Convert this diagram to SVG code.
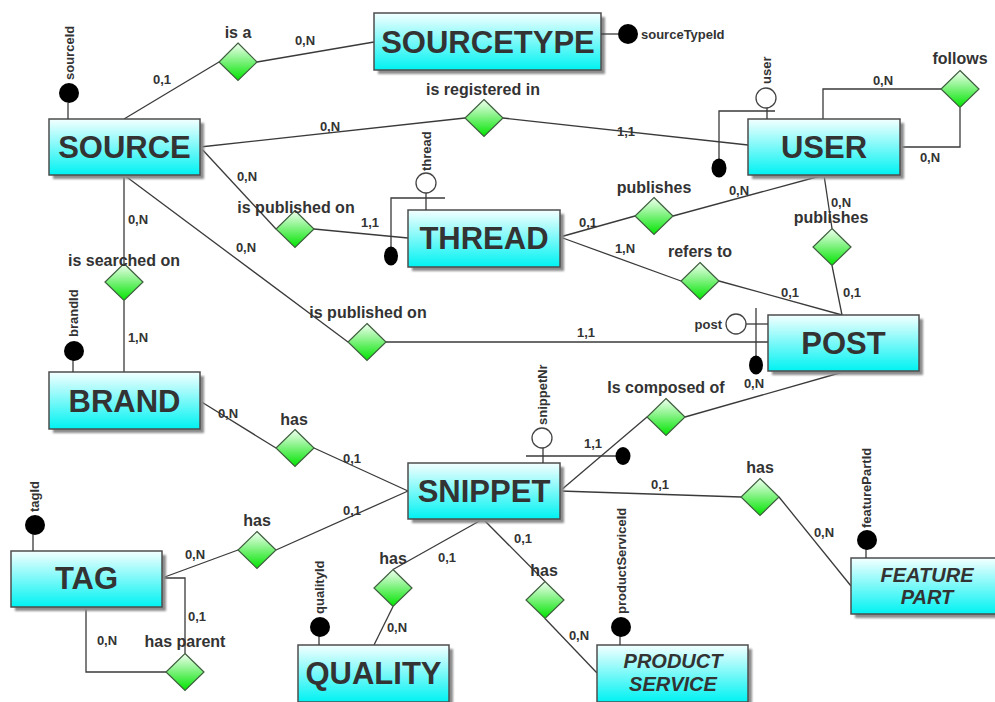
<svg xmlns="http://www.w3.org/2000/svg" width="995" height="702" viewBox="0 0 995 702">
  <defs>
    <linearGradient id="entFill" x1="0" y1="0" x2="0" y2="1">
      <stop offset="0" stop-color="#f4ffff"/>
      <stop offset="1" stop-color="#00f2f2"/>
    </linearGradient>
    <linearGradient id="relFill" x1="0" y1="0" x2="0" y2="1">
      <stop offset="0" stop-color="#f2fff2"/>
      <stop offset="1" stop-color="#00e400"/>
    </linearGradient>
    <filter id="soft" x="-10%" y="-10%" width="120%" height="130%">
      <feGaussianBlur stdDeviation="1"/>
    </filter>
  </defs>
  <style>
    .ent { fill: url(#entFill); stroke: #4d4d4d; stroke-width: 1.5; }
    .shadow { fill: #8c8c8c; filter: url(#soft); }
    .rel { fill: url(#relFill); stroke: #3e5e3e; stroke-width: 1.2; }
    .ln { fill: none; stroke: #3a3a3a; stroke-width: 1.3; }
    text { font-family: "Liberation Sans", Arial, sans-serif; font-weight: bold; fill: #333; }
    .ename { font-size: 31px; text-anchor: middle; }
    .ename2 { font-size: 20px; font-style: italic; text-anchor: middle; }
    .rname { font-size: 16px; text-anchor: middle; }
    .card { font-size: 13px; text-anchor: middle; }
    .attr { font-size: 13px; }
    .key { fill: #000; }
    .part { fill: #fff; stroke: #444; stroke-width: 1.3; }
  </style>
  <rect width="995" height="702" fill="#fff"/>

  <!-- connectors -->
  <g id="connectors">
    <polyline class="ln" points="124,119 219,62"/>
    <polyline class="ln" points="257,62 374,42"/>
    <polyline class="ln" points="200,147 465,118"/>
    <polyline class="ln" points="503,118 748,145"/>
    <polyline class="ln" points="200,147 276,229"/>
    <polyline class="ln" points="314,229 408,238"/>
    <polyline class="ln" points="124,175 348,342"/>
    <polyline class="ln" points="124,175 124,263.5"/>
    <polyline class="ln" points="124,300.5 124,372"/>
    <polyline class="ln" points="386,342 768,342"/>
    <polyline class="ln" points="560,237 635,216"/>
    <polyline class="ln" points="673,216 824,175"/>
    <polyline class="ln" points="560,237 681,281"/>
    <polyline class="ln" points="719,281 842,315"/>
    <polyline class="ln" points="824,175 832,228.5"/>
    <polyline class="ln" points="832,265.5 842,315"/>
    <polyline class="ln" points="823,119 823,89 941,89"/>
    <polyline class="ln" points="960,107.5 960,147 900,147"/>
    <polyline class="ln" points="843,372 685,417"/>
    <polyline class="ln" points="647,417 560,491"/>
    <polyline class="ln" points="560,491 741,497"/>
    <polyline class="ln" points="779,497 851,586"/>
    <polyline class="ln" points="200,401 276,448"/>
    <polyline class="ln" points="314,448 408,491"/>
    <polyline class="ln" points="408,491 276,550"/>
    <polyline class="ln" points="238,550 162,578"/>
    <polyline class="ln" points="162,578 185,578 185,653.5"/>
    <polyline class="ln" points="86,607 86,672 166,672"/>
    <polyline class="ln" points="483,519 393,569.5"/>
    <polyline class="ln" points="393,606.5 374,645"/>
    <polyline class="ln" points="483,519 545,581.5"/>
    <polyline class="ln" points="545,618.5 597,673"/>

    <!-- cardinalities -->
    <text class="card" x="162" y="84">0,1</text>
    <text class="card" x="305" y="45">0,N</text>
    <text class="card" x="330" y="131">0,N</text>
    <text class="card" x="626" y="136">1,1</text>
    <text class="card" x="247" y="181">0,N</text>
    <text class="card" x="370" y="227">1,1</text>
    <text class="card" x="138" y="224">0,N</text>
    <text class="card" x="138" y="342">1,N</text>
    <text class="card" x="246" y="252">0,N</text>
    <text class="card" x="586" y="337">1,1</text>
    <text class="card" x="588" y="227">0,1</text>
    <text class="card" x="739" y="195">0,N</text>
    <text class="card" x="625" y="253">1,N</text>
    <text class="card" x="790" y="297">0,1</text>
    <text class="card" x="841" y="207">0,N</text>
    <text class="card" x="852" y="297">0,1</text>
    <text class="card" x="883" y="85">0,N</text>
    <text class="card" x="930" y="162">0,N</text>
    <text class="card" x="754" y="388">0,N</text>
    <text class="card" x="593" y="448">1,1</text>
    <text class="card" x="660" y="489">0,1</text>
    <text class="card" x="824" y="537">0,N</text>
    <text class="card" x="228" y="418">0,N</text>
    <text class="card" x="352" y="463">0,1</text>
    <text class="card" x="352" y="515">0,1</text>
    <text class="card" x="195" y="559">0,N</text>
    <text class="card" x="197" y="621">0,1</text>
    <text class="card" x="107" y="645">0,N</text>
    <text class="card" x="447" y="562">0,1</text>
    <text class="card" x="397" y="632">0,N</text>
    <text class="card" x="523" y="543">0,1</text>
    <text class="card" x="579" y="640">0,N</text>
  </g>

  <!-- relationships -->
  <g id="rel-is-a">
    <polygon class="rel" points="238,43 257,62 238,80.5 219,62"/>
    <text class="rname" x="238" y="38">is a</text>
  </g>
  <g id="rel-is-registered-in">
    <polygon class="rel" points="484,99.5 503,118 484,136.5 465,118"/>
    <text class="rname" x="483" y="95">is registered in</text>
  </g>
  <g id="rel-follows">
    <polygon class="rel" points="960,70.5 979,89 960,107.5 941,89"/>
    <text class="rname" x="960" y="64">follows</text>
  </g>
  <g id="rel-thread-published-on">
    <polygon class="rel" points="295,210.5 314,229 295,247.5 276,229"/>
    <text class="rname" x="296" y="213">is published on</text>
  </g>
  <g id="rel-is-searched-on">
    <polygon class="rel" points="124,263.5 143,282 124,300.5 105,282"/>
    <text class="rname" x="124" y="266">is searched on</text>
  </g>
  <g id="rel-post-published-on">
    <polygon class="rel" points="367,323.5 386,342 367,360.5 348,342"/>
    <text class="rname" x="368" y="318">is published on</text>
  </g>
  <g id="rel-thread-publishes">
    <polygon class="rel" points="654,197.5 673,216 654,234.5 635,216"/>
    <text class="rname" x="654" y="193">publishes</text>
  </g>
  <g id="rel-post-publishes">
    <polygon class="rel" points="832,228.5 851,247 832,265.5 813,247"/>
    <text class="rname" x="831" y="223">publishes</text>
  </g>
  <g id="rel-refers-to">
    <polygon class="rel" points="700,262.5 719,281 700,299.5 681,281"/>
    <text class="rname" x="700" y="257">refers to</text>
  </g>
  <g id="rel-is-composed-of">
    <polygon class="rel" points="666,398.5 685,417 666,435.5 647,417"/>
    <text class="rname" x="666" y="393">Is composed of</text>
  </g>
  <g id="rel-brand-has">
    <polygon class="rel" points="295,429.5 314,448 295,466.5 276,448"/>
    <text class="rname" x="294" y="425">has</text>
  </g>
  <g id="rel-tag-has">
    <polygon class="rel" points="257,531.5 276,550 257,568.5 238,550"/>
    <text class="rname" x="257" y="526">has</text>
  </g>
  <g id="rel-has-parent">
    <polygon class="rel" points="185,653.5 204,672 185,690.5 166,672"/>
    <text class="rname" x="185" y="647">has parent</text>
  </g>
  <g id="rel-quality-has">
    <polygon class="rel" points="393,569.5 412,588 393,606.5 374,588"/>
    <text class="rname" x="393" y="564">has</text>
  </g>
  <g id="rel-product-has">
    <polygon class="rel" points="545,581.5 564,600 545,618.5 526,600"/>
    <text class="rname" x="544" y="576">has</text>
  </g>
  <g id="rel-feature-has">
    <polygon class="rel" points="760,478.5 779,497 760,515.5 741,497"/>
    <text class="rname" x="760" y="473">has</text>
  </g>

  <!-- entities -->
  <g id="SOURCETYPE">
    <rect class="shadow" x="378" y="17" width="227" height="57"/>
    <rect class="ent" x="374" y="13" width="227" height="57"/>
    <text class="ename" x="488" y="52.5">SOURCETYPE</text>
    <line class="ln" x1="601" y1="34" x2="618" y2="34"/>
    <circle class="key" cx="628" cy="34" r="10"/>
    <text class="attr" x="641" y="38.5">sourceTypeId</text>
  </g>
  <g id="SOURCE">
    <rect class="shadow" x="53" y="123" width="151" height="56"/>
    <rect class="ent" x="49" y="119" width="151" height="56"/>
    <text class="ename" x="124.5" y="158">SOURCE</text>
    <line class="ln" x1="68" y1="103" x2="68" y2="119"/>
    <circle class="key" cx="69" cy="93" r="10"/>
    <text class="attr" transform="translate(73.5,80) rotate(-90)">sourceId</text>
  </g>
  <g id="USER">
    <rect class="shadow" x="752" y="123" width="152" height="56"/>
    <rect class="ent" x="748" y="119" width="152" height="56"/>
    <text class="ename" x="824" y="158">USER</text>
    <line class="ln" x1="767" y1="108" x2="767" y2="119"/>
    <polyline class="ln" points="775,111 719,111 719,160"/>
    <circle class="part" cx="766" cy="98" r="10"/>
    <ellipse class="key" cx="719" cy="168" rx="7.5" ry="9.5"/>
    <text class="attr" transform="translate(770.5,84) rotate(-90)">user</text>
  </g>
  <g id="THREAD">
    <rect class="shadow" x="412" y="214" width="152" height="57"/>
    <rect class="ent" x="408" y="210" width="152" height="57"/>
    <text class="ename" x="484" y="249">THREAD</text>
    <line class="ln" x1="426" y1="193" x2="426" y2="210"/>
    <polyline class="ln" points="445,198 391,198 391,248"/>
    <circle class="part" cx="426" cy="183" r="10"/>
    <ellipse class="key" cx="391" cy="256" rx="7" ry="9.5"/>
    <text class="attr" transform="translate(431,171) rotate(-90)">thread</text>
  </g>
  <g id="POST">
    <rect class="shadow" x="772" y="319" width="151" height="56"/>
    <rect class="ent" x="768" y="315" width="151" height="56"/>
    <text class="ename" x="843.5" y="354">POST</text>
    <line class="ln" x1="746" y1="324" x2="768" y2="324"/>
    <line class="ln" x1="756" y1="308" x2="756" y2="357"/>
    <circle class="part" cx="736" cy="324" r="10"/>
    <ellipse class="key" cx="756" cy="365" rx="7" ry="9.5"/>
    <text class="attr" x="722" y="329" text-anchor="end">post</text>
  </g>
  <g id="BRAND">
    <rect class="shadow" x="53" y="376" width="151" height="57"/>
    <rect class="ent" x="49" y="372" width="151" height="57"/>
    <text class="ename" x="124.5" y="412">BRAND</text>
    <line class="ln" x1="73" y1="360" x2="73" y2="372"/>
    <circle class="key" cx="74" cy="351" r="10"/>
    <text class="attr" transform="translate(77.5,337) rotate(-90)">brandId</text>
  </g>
  <g id="SNIPPET">
    <rect class="shadow" x="412" y="467" width="152" height="56"/>
    <rect class="ent" x="408" y="463" width="152" height="56"/>
    <text class="ename" x="484" y="502">SNIPPET</text>
    <line class="ln" x1="543" y1="448" x2="543" y2="463"/>
    <line class="ln" x1="526" y1="456" x2="616" y2="456"/>
    <circle class="part" cx="542" cy="438" r="10"/>
    <ellipse class="key" cx="623" cy="456" rx="7.5" ry="9"/>
    <text class="attr" transform="translate(547,425) rotate(-90)">snippetNr</text>
  </g>
  <g id="TAG">
    <rect class="shadow" x="15" y="555" width="151" height="56"/>
    <rect class="ent" x="11" y="551" width="151" height="56"/>
    <text class="ename" x="86.5" y="589">TAG</text>
    <line class="ln" x1="33" y1="534" x2="33" y2="551"/>
    <circle class="key" cx="35" cy="525" r="10"/>
    <text class="attr" transform="translate(39,512) rotate(-90)">tagId</text>
  </g>
  <g id="QUALITY">
    <rect class="shadow" x="302" y="649" width="151" height="57"/>
    <rect class="ent" x="298" y="645" width="151" height="57"/>
    <text class="ename" x="373.5" y="684">QUALITY</text>
    <line class="ln" x1="319" y1="636" x2="319" y2="645"/>
    <circle class="key" cx="320" cy="627" r="10"/>
    <text class="attr" transform="translate(324,614) rotate(-90)">qualityId</text>
  </g>
  <g id="PRODUCT_SERVICE">
    <rect class="shadow" x="601" y="649" width="151" height="57"/>
    <rect class="ent" x="597" y="645" width="151" height="57"/>
    <text class="ename2" x="673" y="668">PRODUCT</text>
    <text class="ename2" x="673" y="691">SERVICE</text>
    <line class="ln" x1="620" y1="636" x2="620" y2="645"/>
    <circle class="key" cx="621" cy="627" r="10"/>
    <text class="attr" transform="translate(626,614) rotate(-90)">productServiceId</text>
  </g>
  <g id="FEATURE_PART">
    <rect class="shadow" x="855" y="562" width="152" height="56"/>
    <rect class="ent" x="851" y="558" width="152" height="56"/>
    <text class="ename2" x="927" y="582">FEATURE</text>
    <text class="ename2" x="927" y="604">PART</text>
    <line class="ln" x1="866" y1="549" x2="866" y2="558"/>
    <circle class="key" cx="867" cy="540" r="10"/>
    <text class="attr" transform="translate(871,528) rotate(-90)">featurePartId</text>
  </g>
</svg>
